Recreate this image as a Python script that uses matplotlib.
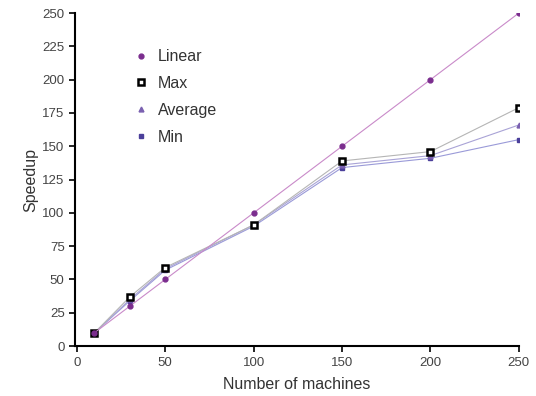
import matplotlib
matplotlib.use('Agg')
import matplotlib.pyplot as plt

plt.rcParams['font.family'] = ['Liberation Sans', 'DejaVu Sans']

# data
machines = [10, 30, 50, 100, 150, 200, 250]
linear = [10, 30, 50, 100, 150, 200, 250]
speed_max = [10, 37, 59, 91, 139, 146, 179]
speed_avg = [10, 35, 58, 91, 136, 143, 166]
speed_min = [10, 34, 57, 90, 134, 141, 155]

fig = plt.figure(figsize=(5.36, 3.96), dpi=100)
ax = fig.add_axes([0.140, 0.126, 0.828, 0.841])

ax.plot(machines, speed_min, color='#9a9ad8', lw=0.8, marker='s', ms=3,
        mfc='#4b3f9a', mec='#4b3f9a', label='Min')
ax.plot(machines, speed_avg, color='#a9a3d6', lw=0.8, marker='^', ms=3.5,
        mfc='#7a60b0', mec='#7a60b0', label='Average')
ax.plot(machines, speed_max, color='#b5b5b5', lw=0.8, marker='s', ms=5,
        mfc='white', mec='black', mew=1.8, label='Max')
ax.plot(machines, linear, color='#c98ac9', lw=0.8, marker='o', ms=3.5,
        mfc='#7b2d8e', mec='#7b2d8e', label='Linear')

ax.set_xlim(-1, 250)
ax.set_ylim(0, 250)
ax.set_xticks([0, 50, 100, 150, 200, 250])
ax.set_yticks(range(0, 251, 25))
ax.spines['top'].set_visible(False)
ax.spines['right'].set_visible(False)
ax.spines['left'].set_linewidth(1.5)
ax.spines['bottom'].set_linewidth(1.5)
ax.tick_params(length=4, width=1.2, labelsize=9.5, labelcolor='#444444')
ax.set_xlabel('Number of machines', fontsize=11.5, color='#333333', labelpad=6)
ax.set_ylabel('Speedup', fontsize=11.5, color='#333333', labelpad=3)

h, l = ax.get_legend_handles_labels()
order = [3, 2, 1, 0]
ax.legend([h[i] for i in order], [l[i] for i in order], loc='upper left',
          bbox_to_anchor=(0.10, 0.935), frameon=False, fontsize=11.5,
          handlelength=0.9, handletextpad=0.6, labelspacing=0.75,
          labelcolor='#333333')
for line in ax.get_legend().get_lines():
    line.set_linestyle('none')

fig.savefig('out.png', dpi=100)
